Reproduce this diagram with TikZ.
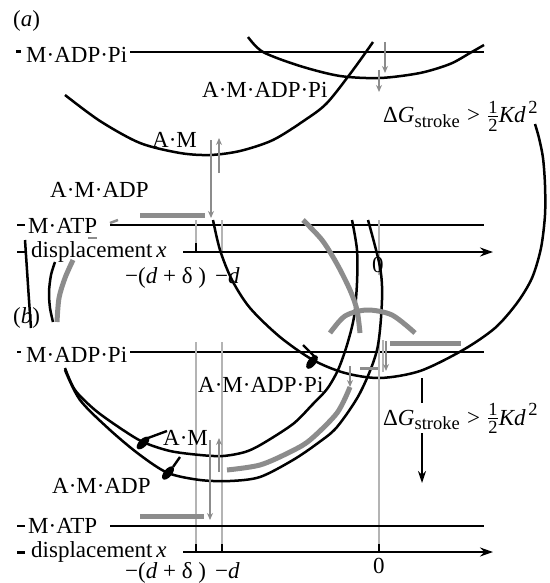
\documentclass[tikz,border=0pt]{standalone}
\usepackage{amsmath}
\usepackage{fontspec}
\setmainfont{Liberation Serif}
\usetikzlibrary{arrows.meta,shapes.geometric}
\definecolor{gbar}{HTML}{8C8C8C}
\definecolor{gline}{HTML}{B4B4B4}
\newcommand{\smallsz}{\fontsize{18.5}{19}\selectfont}
\newcommand{\dGlabel}{$\text{Δ}\textit{G}_{\text{\smallsz stroke}}\mathrel{\text{>}}\frac{\text{\smallsz 1}}{\text{\smallsz 2}}\textit{Kd}^{\,\text{\smallsz 2}}$}
\begin{document}
\begin{tikzpicture}[x=1pt,y=-1pt,
  lab/.style={inner sep=0pt, anchor=base west, font=\fontsize{23}{26}\selectfont},
  curve/.style={line width=2.5pt},
  level/.style={line width=2.6pt},
  gbarst/.style={gbar, line width=5pt},
  gthin/.style={gline, line width=1.5pt},
  garrow/.style={gbar, line width=1.5pt, -{Stealth[length=7pt,width=6pt]}},
  axisar/.style={line width=2.5pt, -{Stealth[length=13pt,width=9pt]}},
  blob/.style={fill=black, ellipse, minimum width=16pt, minimum height=8pt, inner sep=0pt}
]
\useasboundingbox (0,0) rectangle (549,583);

% ---------------- panel (a) ----------------
\node[lab] (la) at (13,27) {(\textit{a})};
\draw[line width=3pt] (16,52) -- (21,52);
\node[lab] (a1) at (26,63) {M·ADP·Pi};
\draw[level] (130,52) -- (484,52);
\draw[curve] plot[smooth] coordinates {(65,95) (100,121) (140,143) (180,153) (210,155) (240,151) (273,140) (305,120) (327,103) (353,70) (373,42)};
\draw[curve] plot[smooth] coordinates {(248,37) (263,52) (300,66) (340,76) (380,78) (420,73) (450,64) (470,53) (484,45)};
\draw[garrow] (385,42) -- (385,73);
\draw[garrow] (379,70) -- (379,92);
\node[lab] (a2) at (202,98) {A·M·ADP·Pi};
\node[lab] (a3) at (152,147) {A·M};
\node[lab] (a4) at (50,197) {A·M·ADP};
\node[lab] (a5) at (383,123) {\dGlabel};
\draw[garrow] (219,173) -- (219,138);
\draw[garrow] (211,140) -- (211,218);
\draw[gbarst] (140,215) -- (205,215);
\draw[line width=2.4pt] (17,225) -- (25,225);
\node[lab] (a6) at (28,233) {M·ATP};
\draw[gbar, line width=2.5pt] (110,223) -- (118,220);
\draw[gbar, line width=2pt] (88,238) -- (97,238);
\draw[level] (110,225) -- (484,225);
\draw[line width=2.4pt] (17,252) -- (25,252);
\node[lab] (a7) at (31,257) {displacement\,\textit{x}};
\draw[gthin] (196,220) -- (196,252);
\draw[gthin] (222,220) -- (222,252);
\draw[gthin] (379,220) -- (379,275);
\draw[line width=1.5pt] (196,243) -- (196,252);
\draw[axisar] (183,252) -- (493,252);
\node[lab] (a8) at (125,283) {−(\textit{d} + δ )};
\node[lab] (a9) at (215,283) {−\textit{d}};
\node[lab] (a10) at (372,272) {0};

% big arc
\draw[curve] plot[smooth] coordinates {(213,220) (220,250) (232,280) (250,308) (280,337) (313,360) (345,373) (380,378) (420,371) (463,350) (495,328) (517,303) (532,278) (541,248) (545,215) (545,185) (543,158) (539,138) (535,124)};

% ---------------- panel (b) ----------------
\node[lab] (lb) at (13,323) {(\textit{b})};
\draw[curve] plot[smooth] coordinates {(25,240) (27,270) (29,300) (31,328)};
\draw[curve] plot[smooth] coordinates {(55,262) (51,275) (49,292) (50,308) (53,322)};
\draw[gbarst] plot[smooth] coordinates {(73,260) (65,278) (59,298) (57,322)};
\draw[line width=2.4pt] (17,352) -- (21,352);
\node[lab] (b1) at (26,362) {M·ADP·Pi};
\draw[level] (130,352) -- (484,352);
\draw[gthin] (196,342) -- (196,552);
\draw[gthin] (222,342) -- (222,552);
\draw[gthin] (379,340) -- (379,552);
\draw[gthin] (383,340) -- (383,372);

% curves (b)
\draw[curve] plot[smooth] coordinates {(65,368) (75,390) (95,410) (120,428) (143,442) (170,451) (200,455) (223,456) (245,452) (262,444) (293,424) (312,405) (327,389) (338,370) (347,345) (354,317) (357,283) (357,250) (352,220)};
\draw[curve] plot[smooth] coordinates {(65,370) (80,400) (110,430) (140,455) (168,473) (200,480) (230,481) (260,477) (293,460) (318,443) (337,427) (360,393) (377,350) (382,300) (380,267) (368,220)};
\draw[gbarst] plot[smooth] coordinates {(227,470) (260,465) (290,452) (310,440) (337,413) (350,387)};
\draw[gbarst] plot[smooth] coordinates {(303,220) (322,240) (337,264) (350,290) (357,310) (360,333)};
\draw[gbarst] plot[smooth] coordinates {(330,333) (345,316) (367,310) (392,315) (415,333)};
\draw[gbarst] (390,343) -- (461,343);
\draw[garrow] (386,341) -- (386,371);
\draw[garrow] (350,366) -- (350,387);
\draw[gbar, line width=3pt] (360,368) -- (378,368);

\node[blob, rotate=45] (h1) at (143,443) {};
\draw[line width=2.4pt] (148,438) -- (167,431);
\node[blob, rotate=50] (h2) at (168,473) {};
\draw[line width=2.4pt] (173,467) -- (180,457);
\node[blob, rotate=52] (h3) at (312,362) {};
\draw[line width=2.4pt] (303,345) -- (315,357);

\node[lab] (b2) at (198,392) {A·M·ADP·Pi};
\node[lab] (b3) at (163,445) {A·M};
\node[lab] (b4) at (52,493) {A·M·ADP};
\node[lab] (b5) at (383,425) {\dGlabel};
\coordinate (dgt) at (422,378);
\coordinate (dgb) at (422,483);
\draw[line width=1.6pt] (dgt) -- (422,403);
\draw[line width=1.6pt, -{Stealth[length=12pt,width=8pt]}] (422,433) -- (dgb);

\draw[garrow] (219,472) -- (219,438);
\draw[garrow] (210,440) -- (210,520);
\draw[gbarst] (140,516) -- (204,516);
\draw[line width=2.4pt] (17,526) -- (25,526);
\node[lab] (b6) at (28,533) {M·ATP};
\draw[level] (110,526) -- (484,526);
\draw[line width=3pt] (17,552) -- (25,552);
\node[lab] (b7) at (31,557) {displacement\,\textit{x}};
\draw[axisar] (183,552) -- (493,552);
\draw[line width=1.6pt] (196,544) -- (196,552);
\draw[line width=1.6pt] (222,544) -- (222,552);
\draw[line width=1.6pt] (379,544) -- (379,552);
\node[lab] (b8) at (125,578) {−(\textit{d} + δ )};
\node[lab] (b9) at (215,578) {−\textit{d}};
\node[lab] (b10) at (373,573) {0};
\end{tikzpicture}
\end{document}
